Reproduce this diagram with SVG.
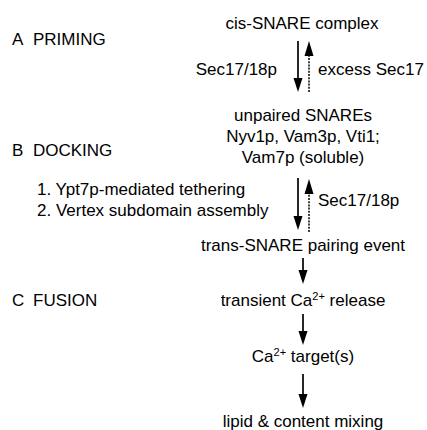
<svg xmlns="http://www.w3.org/2000/svg" width="427" height="430" viewBox="0 0 427 430">
<style>
text{font-family:"Liberation Sans",Arial,Helvetica,sans-serif;font-size:17px;fill:#000}
.c{text-anchor:middle}
.e{text-anchor:end}
.sup{font-size:11px}
.shaft{stroke:#000;stroke-width:1.7;fill:none}
.dash{stroke:#000;stroke-width:1.5;fill:none;stroke-dasharray:2 1.2}
.head{fill:#000}
</style>
<rect width="427" height="430" fill="#fff"/>
<g id="labels">
<text id="A" x="12" y="45">A<tspan x="33">PRIMING</tspan></text>
<text id="B" x="12" y="156">B<tspan x="33">DOCKING</tspan></text>
<text id="C" x="12" y="306">C<tspan x="33">FUSION</tspan></text>
</g>
<g id="cis"><text class="c" x="302" y="29">cis-SNARE complex</text></g>
<g id="unpaired">
<text class="c" x="303" y="121">unpaired SNAREs</text>
<text class="c" x="303" y="142">Nyv1p, Vam3p, Vti1;</text>
<text class="c" x="303" y="163">Vam7p (soluble)</text>
</g>
<g id="trans"><text class="c" x="303" y="251">trans-SNARE pairing event</text></g>
<g id="release"><text class="c" x="303" y="306">transient Ca<tspan class="sup" dy="-6">2+</tspan><tspan dy="6"> release</tspan></text></g>
<g id="target"><text class="c" x="303" y="362">Ca<tspan class="sup" dy="-6">2+</tspan><tspan dy="6"> target(s)</tspan></text></g>
<g id="mixing"><text class="c" x="303" y="427">lipid &amp; content mixing</text></g>
<g id="edge-labels">
<text class="e" x="277" y="75">Sec17/18p</text>
<text x="318" y="75">excess Sec17</text>
<text x="37" y="195">1. Ypt7p-mediated tethering</text>
<text x="37" y="216">2. Vertex subdomain assembly</text>
<text x="318" y="206">Sec17/18p</text>
</g>
<g id="connectors">
<line class="shaft" x1="298" y1="41" x2="298" y2="80"/>
<polygon class="head" points="293.5,78 302.5,78 298,92"/>
<line class="dash" x1="309" y1="92" x2="309" y2="54"/>
<polygon class="head" points="304.5,56 313.5,56 309,41"/>
<line class="shaft" x1="298" y1="178" x2="298" y2="218"/>
<polygon class="head" points="293.5,216 302.5,216 298,230"/>
<line class="dash" x1="309" y1="232" x2="309" y2="192"/>
<polygon class="head" points="304.5,194 313.5,194 309,179"/>
<line class="shaft" x1="303" y1="258" x2="303" y2="272"/>
<polygon class="head" points="298.5,270 307.5,270 303,284"/>
<line class="shaft" x1="303" y1="314" x2="303" y2="333"/>
<polygon class="head" points="298.5,331 307.5,331 303,345"/>
<line class="shaft" x1="303" y1="374" x2="303" y2="396"/>
<polygon class="head" points="298.5,394 307.5,394 303,408"/>
</g>
</svg>
